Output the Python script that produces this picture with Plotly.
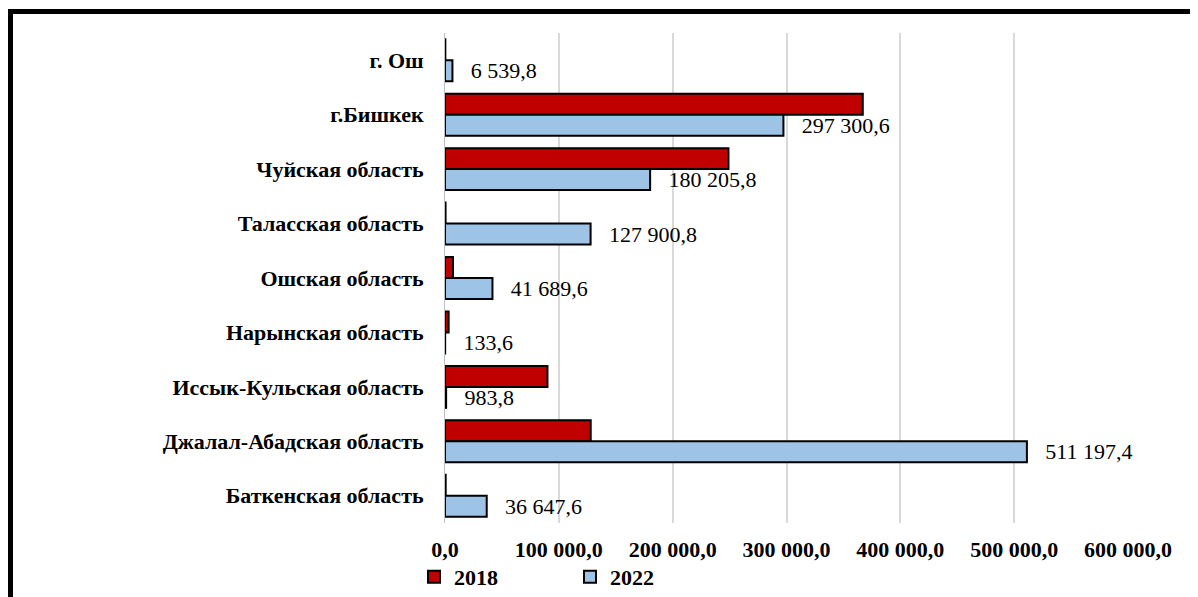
import plotly.graph_objects as go

categories = ["г. Ош", "г.Бишкек", "Чуйская область", "Таласская область", "Ошская область",
              "Нарынская область", "Иссык-Кульская область", "Джалал-Абадская область",
              "Баткенская область"]
values_2018 = [300, 367000, 249000, 500, 7000, 3200, 90000, 128000, 600]
values_2022 = [6539.8, 297300.6, 180205.8, 127900.8, 41689.6, 133.6, 983.8, 511197.4, 36647.6]
tick_values = [0, 100000, 200000, 300000, 400000, 500000, 600000]
tick_labels = ["0,0", "100 000,0", "200 000,0", "300 000,0", "400 000,0", "500 000,0", "600 000,0"]


def fmt(v):
    s = f"{v:,.1f}"
    return s.replace(",", " ").replace(".", ",")


SERIF = "Liberation Serif, Times New Roman, serif"

fig = go.Figure()
fig.add_trace(go.Bar(
    y=categories, x=values_2018, orientation="h", name="2018",
    marker=dict(color="#C00000", line=dict(color="black", width=2)),
))
fig.add_trace(go.Bar(
    y=categories, x=values_2022, orientation="h", name="2022",
    marker=dict(color="#9DC3E6", line=dict(color="black", width=2)),
    text=["\u00a0\u00a0\u2009" + fmt(v) for v in values_2022], textposition="outside",
    constraintext="none",
    textfont=dict(family=SERIF, size=22, color="black"), cliponaxis=False,
))

# page is offset by 8px (body margin); coordinates below are in figure pixels
L, R, T, B = 437, 1120, 25, 515
W, H = 1198, 597
pw, ph = R - L, B - T


def px(x):
    return (x - L) / pw


def py(y):
    return (B - y) / ph


fig.update_layout(
    width=W, height=H,
    margin=dict(l=L, r=W - R, t=T, b=H - B, autoexpand=False),
    paper_bgcolor="white", plot_bgcolor="white",
    barmode="group", bargap=0.23, bargroupgap=0,
    showlegend=True,
    legend=dict(orientation="h", x=px(406), y=py(569), xanchor="left", yanchor="middle",
                bgcolor="rgba(0,0,0,0)",
                font=dict(family=SERIF, size=22, color="black", weight="bold"),
                entrywidth=111, itemwidth=30, traceorder="normal"),
    xaxis=dict(range=[0, 600000], tickvals=tick_values, ticktext=tick_labels,
               showgrid=True, gridcolor="#D9D9D9", gridwidth=2, zeroline=False,
               tickfont=dict(family=SERIF, size=22, color="black", weight="bold"),
               ticklabelstandoff=11, fixedrange=True),
    yaxis=dict(autorange="reversed", showline=True, linecolor="#BFBFBF", linewidth=1,
               tickfont=dict(family=SERIF, size=22, color="black", weight="bold"),
               ticklabelstandoff=16, showgrid=False),
    shapes=[dict(type="path", xref="paper", yref="paper",
                 path=f"M {px(1240)},{py(3.5)} L {px(2.5)},{py(3.5)} L {px(2.5)},{py(640)}",
                 line=dict(color="black", width=5))],
)

fig.write_html("out.html")
